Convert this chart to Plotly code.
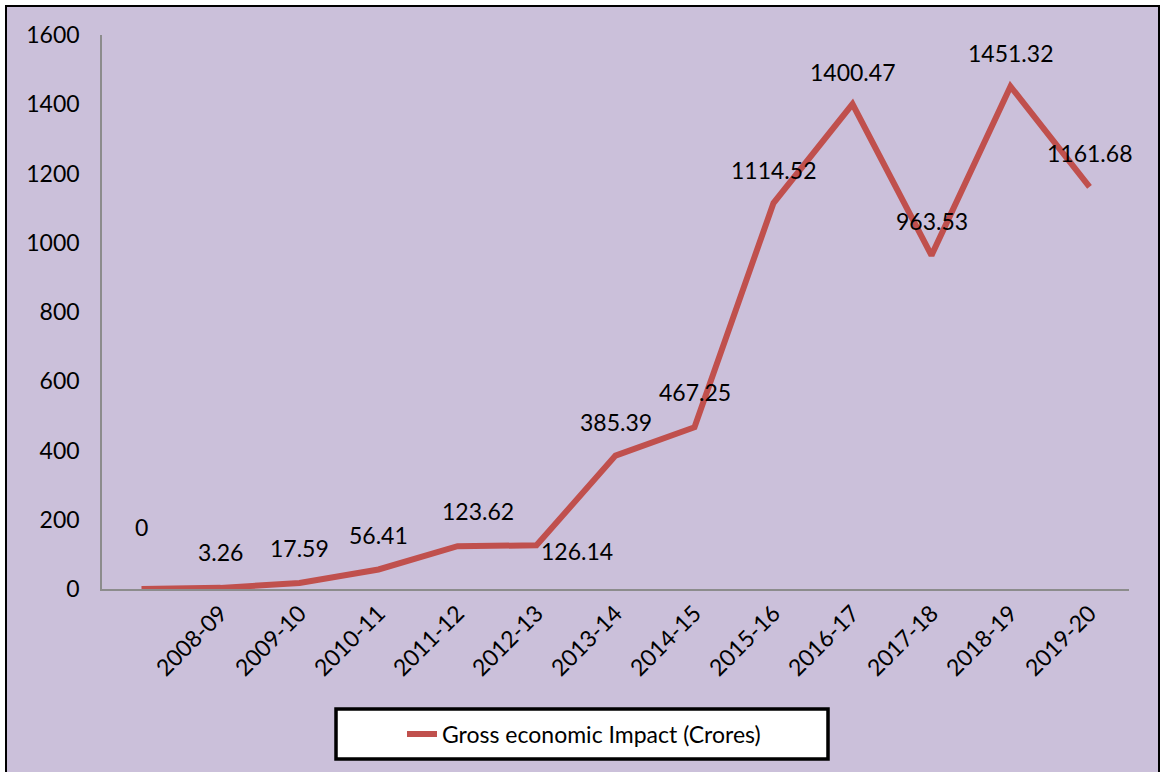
import plotly.graph_objects as go

# Financial years (the first slot is an unlabelled starting point)
years = ["", "2008-09", "2009-10", "2010-11", "2011-12", "2012-13", "2013-14",
         "2014-15", "2015-16", "2016-17", "2017-18", "2018-19", "2019-20"]
impact = [0, 3.26, 17.59, 56.41, 123.62, 126.14, 385.39, 467.25,
          1114.52, 1400.47, 963.53, 1451.32, 1161.68]
y_ticks = [0, 200, 400, 600, 800, 1000, 1200, 1400, 1600]
series_name = "Gross economic Impact (Crores)"

# label offsets in pixels (dx, dy) for each data label
label_shift = [(0, 62), (0, 36), (0, 35), (0, 34), (20, 35), (40, -6), (0, 34),
               (0, 35), (0, 33), (0, 32), (0, 34), (0, 33), (0, 34)]

FONT = "Lato"
FS = 23
BG = "#CBC0DA"
RED = "#C0504D"
AXIS = "#8C8C8C"

W, H = 1168, 772
L, R, T, B = 102, 39, 35, 183
pw, ph = W - L - R, H - T - B


def px_x(p):
    return (p - L) / pw


def px_y(p):
    return (H - B - p) / ph


xs = list(range(len(impact)))

fig = go.Figure()
fig.add_trace(go.Scatter(
    x=xs, y=impact, mode="lines", name=series_name,
    line=dict(color=RED, width=6), showlegend=True,
))

annotations = []
for x, v, (dx, dy) in zip(xs, impact, label_shift):
    annotations.append(dict(
        x=x, y=v, xref="x", yref="y", text=f"{v:g}", showarrow=False,
        xshift=dx, yshift=dy, font=dict(family=FONT, size=FS, color="black"),
    ))

shapes = [
    # chart area frame
    dict(type="rect", xref="paper", yref="paper",
         x0=px_x(6), x1=px_x(1159), y0=px_y(6), y1=px_y(800),
         fillcolor=BG, line=dict(color="black", width=2), layer="below"),
    # legend box
    dict(type="rect", xref="paper", yref="paper",
         x0=px_x(336), x1=px_x(828), y0=px_y(709), y1=px_y(759),
         fillcolor="white", line=dict(color="black", width=3.5), layer="below"),
]

fig.update_layout(
    width=W, height=H,
    margin=dict(l=L, r=R, t=T, b=B),
    paper_bgcolor="white",
    plot_bgcolor="rgba(0,0,0,0)",
    font=dict(family=FONT, size=FS, color="black"),
    showlegend=True,
    legend=dict(
        x=px_x(584), y=px_y(734), xanchor="center", yanchor="middle",
        bgcolor="rgba(0,0,0,0)", borderwidth=0,
        font=dict(family=FONT, size=FS, color="black"),
    ),
    xaxis=dict(
        range=[-0.5, 12.5], tickmode="array", tickvals=xs, ticktext=years,
        tickangle=-45, showgrid=False, zeroline=False,
        showline=True, linecolor=AXIS, linewidth=1.5, ticks="",
        tickfont=dict(family=FONT, size=FS),
    ),
    yaxis=dict(
        range=[0, 1600], tickmode="array", tickvals=y_ticks,
        showgrid=False, zeroline=False,
        showline=True, linecolor=AXIS, linewidth=1.5, ticks="",
        ticklabelstandoff=16, tickfont=dict(family=FONT, size=FS),
    ),
    annotations=annotations,
    shapes=shapes,
)

fig.write_html("out.html")
